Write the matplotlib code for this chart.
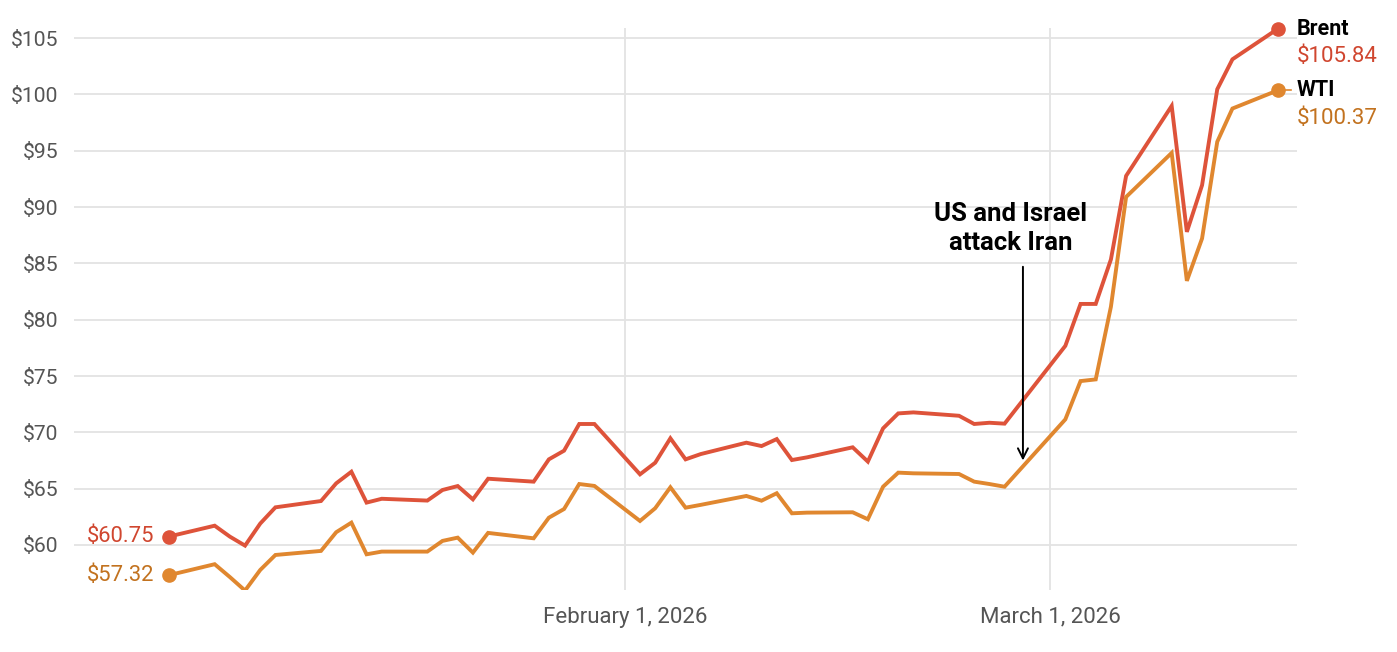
import matplotlib
matplotlib.use("Agg")
import matplotlib.pyplot as plt
import pandas as pd

dates = ["2026-01-02", "2026-01-05", "2026-01-06", "2026-01-07", "2026-01-08", "2026-01-09",
         "2026-01-12", "2026-01-13", "2026-01-14", "2026-01-15", "2026-01-16",
         "2026-01-19", "2026-01-20", "2026-01-21", "2026-01-22", "2026-01-23",
         "2026-01-26", "2026-01-27", "2026-01-28", "2026-01-29", "2026-01-30",
         "2026-02-02", "2026-02-03", "2026-02-04", "2026-02-05", "2026-02-06",
         "2026-02-09", "2026-02-10", "2026-02-11", "2026-02-12", "2026-02-13",
         "2026-02-16", "2026-02-17", "2026-02-18", "2026-02-19", "2026-02-20",
         "2026-02-23", "2026-02-24", "2026-02-25", "2026-02-26",
         "2026-03-02", "2026-03-03", "2026-03-04", "2026-03-05", "2026-03-06",
         "2026-03-09", "2026-03-10", "2026-03-11", "2026-03-12", "2026-03-13",
         "2026-03-16"]

brent = [60.75, 61.71, 60.74, 59.94, 61.90, 63.34,
         63.90, 65.47, 66.50, 63.76, 64.10,
         63.94, 64.88, 65.23, 64.05, 65.88,
         65.62, 67.60, 68.37, 70.74, 70.74,
         66.27, 67.30, 69.47, 67.60, 68.07,
         69.08, 68.78, 69.40, 67.54, 67.78,
         68.67, 67.40, 70.35, 71.68, 71.77,
         71.47, 70.74, 70.85, 70.77,
         77.68, 81.40, 81.40, 85.35, 92.77,
         98.98, 87.80, 91.94, 100.46, 103.12,
         105.84]

wti = [57.32, 58.29, 57.15, 55.95, 57.78, 59.11,
       59.47, 61.13, 61.98, 59.17, 59.41,
       59.41, 60.36, 60.65, 59.32, 61.07,
       60.59, 62.42, 63.19, 65.41, 65.24,
       62.13, 63.26, 65.12, 63.31, 63.56,
       64.35, 63.93, 64.59, 62.81, 62.87,
       62.90, 62.28, 65.17, 66.42, 66.36,
       66.30, 65.62, 65.41, 65.17,
       71.15, 74.55, 74.70, 81.15, 90.90,
       94.81, 83.45, 87.21, 95.80, 98.75,
       100.37]

y_ticks = [60, 65, 70, 75, 80, 85, 90, 95, 100, 105]
x_ticks = ["2026-02-01", "2026-03-01"]
x_tick_labels = ["February 1, 2026", "March 1, 2026"]
series_names = ["Brent", "WTI"]
annotation_text = "US and Israel\nattack Iran"
annotation_date = "2026-02-27 05:00"

BRENT_C = "#DE533A"
WTI_C = "#E0872F"
BRENT_TXT = "#D0462F"
WTI_TXT = "#C2721F"

plt.rcParams["font.family"] = ["Roboto", "DejaVu Sans"]

d = pd.to_datetime(dates)
fig = plt.figure(figsize=(13.97, 6.52), dpi=100)
ax = fig.add_axes([74 / 1397, 1 - 590 / 652, (1297 - 74) / 1397, (590 - 28) / 652])

ax.plot(d, brent, color=BRENT_C, lw=2.8, solid_joinstyle="miter", zorder=3)
ax.plot(d, wti, color=WTI_C, lw=2.8, solid_joinstyle="miter", zorder=3)
for s, c in ((brent, BRENT_C), (wti, WTI_C)):
    ax.plot([d[0], d[-1]], [s[0], s[-1]], "o", color=c, ms=9.5, zorder=4, clip_on=False)

x0 = d[0] - pd.Timedelta(days=6.26)
x1 = d[-1] + pd.Timedelta(days=1.25)
ax.set_xlim(x0, x1)
ax.set_ylim(56.0, 105.9)

ax.set_yticks(y_ticks)
ax.set_yticklabels([f"${v}" for v in y_ticks])
ax.set_xticks(pd.to_datetime(x_ticks))
ax.set_xticklabels(x_tick_labels)

ax.grid(True, color="#e3e3e3", lw=1.3, zorder=0)
ax.set_axisbelow(True)
for sp in ax.spines.values():
    sp.set_visible(False)
ax.tick_params(axis="both", length=0, colors="#555555")
ax.tick_params(axis="y", labelsize=15.2, pad=11)
ax.tick_params(axis="x", labelsize=16, pad=12)

# start labels
off = pd.Timedelta(days=1.0)
ax.text(d[0] - off, brent[0], f"${brent[0]:.2f}", color=BRENT_TXT, fontsize=15.8,
        ha="right", va="center")
ax.text(d[0] - off, wti[0], f"${wti[0]:.2f}", color=WTI_TXT, fontsize=15.8,
        ha="right", va="center")

# end labels
ex = d[-1] + pd.Timedelta(days=1.25)
ax.text(ex, brent[-1], series_names[0], color="black", fontsize=15.5, fontweight="bold",
        ha="left", va="center", clip_on=False)
ax.text(ex, brent[-1] - 2.5, f"${brent[-1]:.2f}", color=BRENT_TXT, fontsize=16,
        ha="left", va="center", clip_on=False)
ax.text(ex, wti[-1], series_names[1], color="black", fontsize=15.5, fontweight="bold",
        ha="left", va="center", clip_on=False)
ax.text(ex, wti[-1] - 2.5, f"${wti[-1]:.2f}", color=WTI_TXT, fontsize=16,
        ha="left", va="center", clip_on=False)
ax.plot([d[-1] + pd.Timedelta(days=0.45), d[-1] + pd.Timedelta(days=0.85)],
        [wti[-1], wti[-1]], color=WTI_C, lw=1.2, zorder=2, clip_on=False)

# annotation
ad = pd.Timestamp(annotation_date)
ax.annotate("", xy=(ad, 67.5), xytext=(ad, 84.7),
            arrowprops=dict(arrowstyle="->", color="black", lw=1.4,
                            mutation_scale=18, shrinkA=0, shrinkB=0), zorder=5)
ax.text(ad - pd.Timedelta(days=0.8), 88.1, annotation_text, fontsize=18.5, fontweight="bold",
        ha="center", va="center", linespacing=1.3, color="black")

fig.savefig("out.png", dpi=100, facecolor="white")
